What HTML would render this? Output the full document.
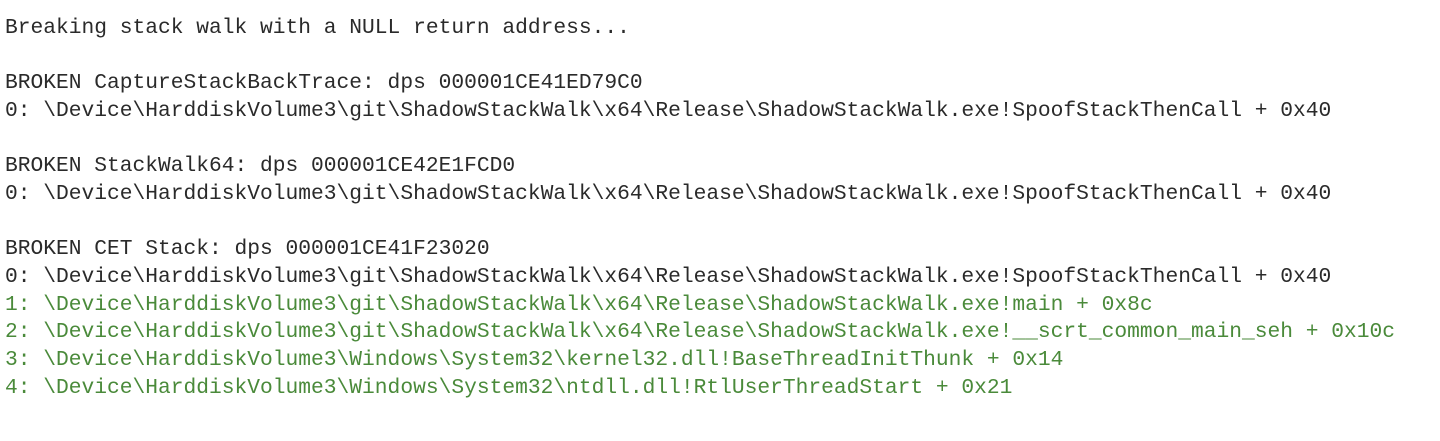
<!DOCTYPE html>
<html><head><style>
html,body{margin:0;padding:0;background:#fff;width:1440px;height:441px;overflow:hidden}
pre{margin:0;position:absolute;left:5px;top:15px;font-family:"Liberation Mono",monospace;font-size:21.25px;line-height:27.65px;color:#2a2a2a}
.g{color:#4a8a3a}
</style></head><body>
<pre>Breaking stack walk with a NULL return address...

BROKEN CaptureStackBackTrace: dps 000001CE41ED79C0
0: \Device\HarddiskVolume3\git\ShadowStackWalk\x64\Release\ShadowStackWalk.exe!SpoofStackThenCall + 0x40

BROKEN StackWalk64: dps 000001CE42E1FCD0
0: \Device\HarddiskVolume3\git\ShadowStackWalk\x64\Release\ShadowStackWalk.exe!SpoofStackThenCall + 0x40

BROKEN CET Stack: dps 000001CE41F23020
0: \Device\HarddiskVolume3\git\ShadowStackWalk\x64\Release\ShadowStackWalk.exe!SpoofStackThenCall + 0x40
<span class="g">1: \Device\HarddiskVolume3\git\ShadowStackWalk\x64\Release\ShadowStackWalk.exe!main + 0x8c
2: \Device\HarddiskVolume3\git\ShadowStackWalk\x64\Release\ShadowStackWalk.exe!__scrt_common_main_seh + 0x10c
3: \Device\HarddiskVolume3\Windows\System32\kernel32.dll!BaseThreadInitThunk + 0x14
4: \Device\HarddiskVolume3\Windows\System32\ntdll.dll!RtlUserThreadStart + 0x21</span></pre>
</body></html>
